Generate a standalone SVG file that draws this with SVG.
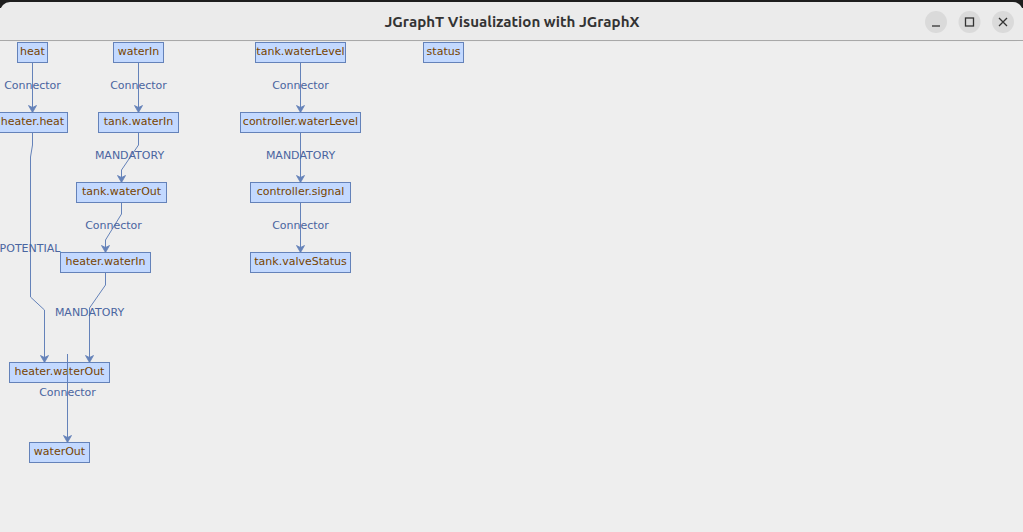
<svg xmlns="http://www.w3.org/2000/svg" width="1023" height="532" viewBox="0 0 1023 532">
<style>
.nb{fill:#c3d9ff;stroke:#6482b9;stroke-width:1}
.nt{font-family:"DejaVu Sans",sans-serif;font-size:11px;fill:#774400;text-anchor:middle}
.el{font-family:"DejaVu Sans",sans-serif;font-size:11px;fill:#4a65a0;text-anchor:middle}
.e{fill:none;stroke:#6482b9;stroke-width:1}
</style>
<defs>
<marker id="arr" markerUnits="userSpaceOnUse" markerWidth="12" markerHeight="12" viewBox="-8 -6 10 12" refX="0" refY="0" orient="auto">
<path d="M0,0 L-7,-4 L-5,0 L-7,4 Z" fill="#6482b9" stroke="#6482b9" stroke-width="0.8"/>
</marker>
</defs>
<rect x="0" y="0" width="1023" height="532" fill="#eeeeee"/>
<rect x="0" y="0" width="1023" height="8" fill="#1e1e1e"/>
<rect x="0" y="2" width="1023" height="40" rx="10" fill="#ebebeb"/>
<rect x="0" y="20" width="1023" height="20" fill="#ebebeb"/>
<line x1="0" y1="40.5" x2="1023" y2="40.5" stroke="#a8a8a8"/>
<text x="512" y="27" font-family="Ubuntu,'Liberation Sans',sans-serif" font-weight="bold" font-size="14" fill="#333333" text-anchor="middle" textLength="255" lengthAdjust="spacingAndGlyphs">JGraphT Visualization with JGraphX</text>
<circle cx="936" cy="22" r="11" fill="#dadada"/>
<circle cx="969.5" cy="22" r="11" fill="#dadada"/>
<circle cx="1003" cy="22" r="11" fill="#dadada"/>
<line x1="932" y1="26" x2="940" y2="26" stroke="#333" stroke-width="1.3"/>
<rect x="965.5" y="18" width="8" height="8" fill="none" stroke="#333" stroke-width="1.3"/>
<path d="M999,18 L1007,26 M1007,18 L999,26" stroke="#333" stroke-width="1.3"/>

<g id="connectors">
<path class="e" d="M32.5,62.5 V112.5" marker-end="url(#arr)"/>
<path class="e" d="M138.5,62.5 V112.5" marker-end="url(#arr)"/>
<path class="e" d="M138.5,132.5 V145 L121.5,170 V182.5" marker-end="url(#arr)"/>
<path class="e" d="M121.5,202.5 V214 L105.5,240 V252.5" marker-end="url(#arr)"/>
<path class="e" d="M105.5,272.5 V285 L89.5,308 V362.5" marker-end="url(#arr)"/>
<path class="e" d="M32.5,132.5 V145 L30.5,157 V297 L44.5,310 V362.5" marker-end="url(#arr)"/>
<path class="e" d="M67.5,354 V442.5" marker-end="url(#arr)"/>
<path class="e" d="M300.5,62.5 V112.5" marker-end="url(#arr)"/>
<path class="e" d="M300.5,132.5 V182.5" marker-end="url(#arr)"/>
<path class="e" d="M300.5,202.5 V252.5" marker-end="url(#arr)"/>
<text class="el" x="32.5" y="89">Connector</text>
<text class="el" x="138.5" y="89">Connector</text>
<text class="el" x="300.5" y="89">Connector</text>
<text class="el" x="129.5" y="159">MANDATORY</text>
<text class="el" x="300.5" y="159">MANDATORY</text>
<text class="el" x="113.5" y="229">Connector</text>
<text class="el" x="300.5" y="229">Connector</text>
<text class="el" x="30" y="252">POTENTIAL</text>
<text class="el" x="89.5" y="316">MANDATORY</text>
<text class="el" x="67.5" y="396">Connector</text>
</g>

<g id="heat"><rect class="nb" x="17.5" y="42.5" width="30" height="20"/><text class="nt" x="32.5" y="54.5">heat</text></g>
<g id="waterIn"><rect class="nb" x="113.5" y="42.5" width="50" height="20"/><text class="nt" x="138.5" y="54.5">waterIn</text></g>
<g id="tank.waterLevel"><rect class="nb" x="255.5" y="42.5" width="90" height="20"/><text class="nt" x="300.5" y="54.5">tank.waterLevel</text></g>
<g id="status"><rect class="nb" x="423.5" y="42.5" width="40" height="20"/><text class="nt" x="443.5" y="54.5">status</text></g>
<g id="heater.heat"><rect class="nb" x="-2.5" y="112.5" width="70" height="20"/><text class="nt" x="32.5" y="124.5">heater.heat</text></g>
<g id="tank.waterIn"><rect class="nb" x="98.5" y="112.5" width="80" height="20"/><text class="nt" x="138.5" y="124.5">tank.waterIn</text></g>
<g id="controller.waterLevel"><rect class="nb" x="240.5" y="112.5" width="120" height="20"/><text class="nt" x="300.5" y="124.5">controller.waterLevel</text></g>
<g id="tank.waterOut"><rect class="nb" x="76.5" y="182.5" width="90" height="20"/><text class="nt" x="121.5" y="194.5">tank.waterOut</text></g>
<g id="controller.signal"><rect class="nb" x="250.5" y="182.5" width="100" height="20"/><text class="nt" x="300.5" y="194.5">controller.signal</text></g>
<g id="heater.waterIn"><rect class="nb" x="60.5" y="252.5" width="90" height="20"/><text class="nt" x="105.5" y="264.5">heater.waterIn</text></g>
<g id="tank.valveStatus"><rect class="nb" x="250.5" y="252.5" width="100" height="20"/><text class="nt" x="300.5" y="264.5">tank.valveStatus</text></g>
<g id="heater.waterOut"><rect class="nb" x="9.5" y="362.5" width="100" height="20"/><text class="nt" x="59.5" y="374.5">heater.waterOut</text></g>
<g id="waterOut"><rect class="nb" x="29.5" y="442.5" width="60" height="20"/><text class="nt" x="59.5" y="454.5">waterOut</text></g>
<path class="e" d="M67.5,354 V382.5"/>
</svg>
